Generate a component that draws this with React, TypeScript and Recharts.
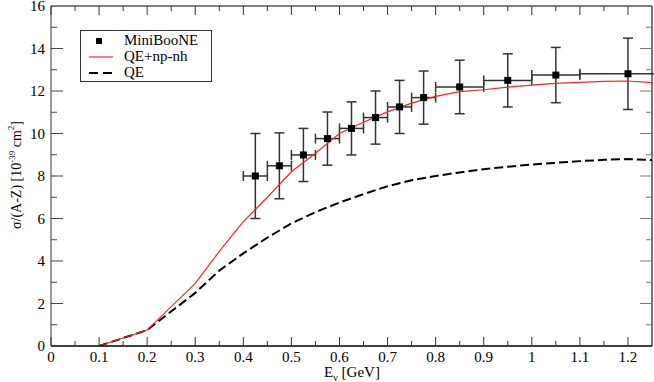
import { ComposedChart, Line, Scatter, ErrorBar, XAxis, YAxis, ReferenceLine } from 'recharts';

// theory curves, sampled on a common energy grid (GeV)
const E_GRID = [0.1, 0.2, 0.3, 0.35, 0.4, 0.45, 0.5, 0.55, 0.6, 0.65, 0.7, 0.75, 0.8, 0.85, 0.9, 0.95, 1.0, 1.05, 1.1, 1.15, 1.2, 1.25];
const QE_NPNH = [0, 0.75, 2.95, 4.45, 5.85, 7.0, 8.2, 9.07, 10.0, 10.53, 11.02, 11.43, 11.75, 11.97, 12.06, 12.18, 12.28, 12.36, 12.41, 12.45, 12.47, 12.39];
const QE_ONLY = [0, 0.75, 2.5, 3.55, 4.36, 5.1, 5.77, 6.3, 6.75, 7.15, 7.52, 7.8, 8.0, 8.17, 8.32, 8.44, 8.54, 8.62, 8.7, 8.76, 8.8, 8.75];

// MiniBooNE data
const E_DATA = [0.425, 0.475, 0.525, 0.575, 0.625, 0.675, 0.725, 0.775, 0.85, 0.95, 1.05, 1.2];
const E_ERR = [0.025, 0.025, 0.025, 0.025, 0.025, 0.025, 0.025, 0.025, 0.05, 0.05, 0.05, 0.1];
const SIGMA = [8.0, 8.48, 8.99, 9.76, 10.24, 10.75, 11.25, 11.69, 12.19, 12.5, 12.75, 12.81];
const SIGMA_ERR = [2.0, 1.55, 1.25, 1.25, 1.25, 1.25, 1.25, 1.25, 1.26, 1.25, 1.3, 1.68];

const X_TICKS = [0, 0.05, 0.1, 0.15, 0.2, 0.25, 0.3, 0.35, 0.4, 0.45, 0.5, 0.55, 0.6, 0.65, 0.7, 0.75, 0.8, 0.85, 0.9, 0.95, 1.0, 1.05, 1.1, 1.15, 1.2];
const Y_TICKS = [0, 1, 2, 3, 4, 5, 6, 7, 8, 9, 10, 11, 12, 13, 14, 15, 16];

const PLOT_W = 601;
const PLOT_H = 340;
const FONT = '"Liberation Serif", "Times New Roman", serif';

const curveData = E_GRID.map((e, i) => ({ x: e, full: QE_NPNH[i], qe: QE_ONLY[i] }));
const points = E_DATA.map((e, i) => ({ x: e, y: SIGMA[i], ex: E_ERR[i], ey: SIGMA_ERR[i] }));

const XTick = (props: any) => {
  const { x, y, payload } = props;
  const v = payload.value;
  const major = Math.abs(v * 10 - Math.round(v * 10)) < 1e-6;
  const len = major ? 9 : 5;
  return (
    <g>
      <line x1={x} y1={y} x2={x} y2={y - len} stroke="#333" />
      <line x1={x} y1={y - PLOT_H} x2={x} y2={y - PLOT_H + len} stroke="#333" />
      {major && (
        <text x={x} y={y + 16} textAnchor="middle" fontSize={15} fontFamily={FONT} fill="#000">
          {String(Math.round(v * 10) / 10)}
        </text>
      )}
    </g>
  );
};

const YTick = (props: any) => {
  const { x, y, payload } = props;
  const v = payload.value;
  const major = v % 2 === 0;
  const len = major ? 12 : 6;
  return (
    <g>
      {v > 0 && v < 16 && <line x1={x} y1={y} x2={x + len} y2={y} stroke="#444" />}
      {v > 0 && v < 16 && <line x1={x + PLOT_W} y1={y} x2={x + PLOT_W - len} y2={y} stroke="#777" />}
      {major && (
        <text x={x - 6} y={y + 5} textAnchor="end" fontSize={15} fontFamily={FONT} fill="#000">
          {v}
        </text>
      )}
    </g>
  );
};

const Square = (props: any) => (
  <rect x={props.cx - 3.5} y={props.cy - 3.5} width={7} height={7} fill="#000" />
);

const yTitle = () => (
  <text transform="rotate(-90, 21, 175)" x={21} y={175} textAnchor="middle" fontSize={14} fontFamily={FONT} fill="#000">
    σ/(A-Z) [10<tspan dy={-6} fontSize={9}>-39</tspan>
    <tspan dy={6}> cm</tspan>
    <tspan dy={-7} fontSize={9}>2</tspan>
    <tspan dy={7}>]</tspan>
  </text>
);

const xTitle = () => (
  <text x={352} y={377} textAnchor="middle" fontSize={15} fontFamily={FONT} fill="#000">
    E<tspan dy={4} fontSize={10}>ν</tspan>
    <tspan dy={-4}> [GeV]</tspan>
  </text>
);

const legendRows = [
  { name: 'MiniBooNE', kind: 'square' },
  { name: 'QE+np-nh', kind: 'red' },
  { name: 'QE', kind: 'dash' },
];

const ChartLegend = () => (
  <div
    style={{
      position: 'absolute',
      left: 80,
      top: 30,
      width: 132,
      height: 52,
      border: '1px solid #333',
      background: '#fff',
      fontFamily: FONT,
      fontSize: 15,
      boxSizing: 'border-box',
    }}
  >
    {legendRows.map((r, i) => (
      <div key={r.name} style={{ position: 'absolute', left: 0, top: 2 + i * 16, height: 16, width: '100%' }}>
        <svg width={40} height={16} style={{ position: 'absolute', left: 6, top: 0 }}>
          {r.kind === 'square' && <rect x={9} y={5} width={6} height={6} fill="#000" />}
          {r.kind === 'red' && <line x1={2} y1={8} x2={26} y2={8} stroke="#ff5555" strokeWidth={1.5} />}
          {r.kind === 'dash' && <line x1={2} y1={8} x2={26} y2={8} stroke="#000" strokeWidth={2} strokeDasharray="9 5" />}
        </svg>
        <span style={{ position: 'absolute', left: 43, top: -1, lineHeight: '17px' }}>{r.name}</span>
      </div>
    ))}
  </div>
);

export default function App() {
  return (
    <div style={{ position: 'absolute', left: 0, top: 0, width: 654, height: 382, background: '#fff' }}>
      <ComposedChart width={654} height={382} margin={{ top: 6, right: 2, bottom: 0, left: 0 }}>
        <XAxis
          type="number"
          dataKey="x"
          domain={[0, 1.25]}
          ticks={X_TICKS}
          interval={0}
          allowDataOverflow
          height={36}
          tickSize={0}
          tickMargin={0}
          tickLine={false}
          tick={<XTick />}
          axisLine={{ stroke: '#000', strokeWidth: 1.5 }}
          label={{ content: xTitle }}
        />
        <YAxis
          type="number"
          domain={[0, 16]}
          ticks={Y_TICKS}
          interval={0}
          allowDataOverflow
          width={51}
          tickSize={0}
          tickMargin={0}
          tickLine={false}
          tick={<YTick />}
          axisLine={{ stroke: '#333', strokeWidth: 1 }}
          label={{ content: yTitle }}
        />
        <ReferenceLine y={16} stroke="#000" strokeWidth={1} ifOverflow="visible" />
        <ReferenceLine x={1.25} stroke="#777" strokeWidth={2} ifOverflow="visible" />
        <Scatter data={points} dataKey="y" fill="#000" shape={Square} isAnimationActive={false}>
          <ErrorBar dataKey="ey" direction="y" width={5} stroke="#333" strokeWidth={1.5} isAnimationActive={false} />
          <ErrorBar dataKey="ex" direction="x" width={5} stroke="#333" strokeWidth={1.5} isAnimationActive={false} />
        </Scatter>
        <Line
          data={curveData}
          dataKey="qe"
          type="linear"
          stroke="#000"
          strokeWidth={2}
          strokeDasharray="9 4"
          dot={false}
          activeDot={false}
          isAnimationActive={false}
        />
        <Line
          data={curveData}
          dataKey="full"
          type="linear"
          stroke="#ff2020"
          strokeWidth={1.2}
          dot={false}
          activeDot={false}
          isAnimationActive={false}
        />
      </ComposedChart>
      <ChartLegend />
    </div>
  );
}
